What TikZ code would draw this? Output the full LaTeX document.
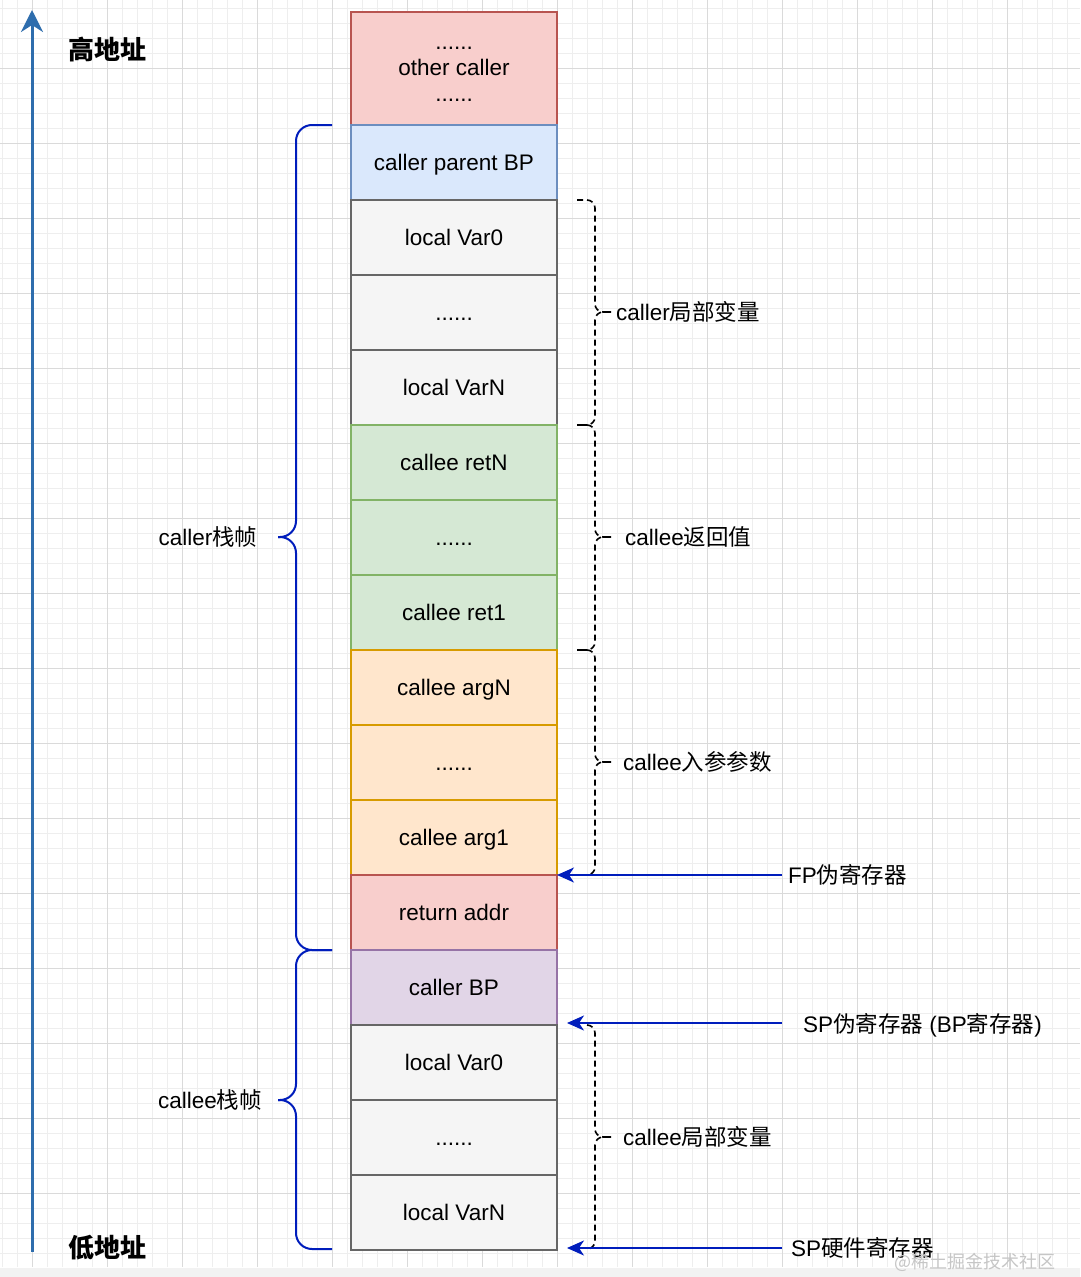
\documentclass[tikz,border=0pt]{standalone}
\usepackage{fontspec}
\setmainfont{Liberation Sans}
\newfontfamily\cjk{Noto Sans CJK SC}
\usetikzlibrary{arrows.meta}
\definecolor{gMinor}{HTML}{EEEEEE}
\definecolor{gMajor}{HTML}{DADADA}
\definecolor{redF}{HTML}{F8CECC}\definecolor{redD}{HTML}{B85450}
\definecolor{blueF}{HTML}{DAE8FC}\definecolor{blueD}{HTML}{6C8EBF}
\definecolor{grayF}{HTML}{F5F5F5}\definecolor{grayD}{HTML}{666666}
\definecolor{greenF}{HTML}{D5E8D4}\definecolor{greenD}{HTML}{82B366}
\definecolor{orangeF}{HTML}{FFE6CC}\definecolor{orangeD}{HTML}{D79B00}
\definecolor{purpleF}{HTML}{E1D5E7}\definecolor{purpleD}{HTML}{9673A6}
\definecolor{ptr}{HTML}{001DBC}
\definecolor{axisc}{HTML}{2E6DAD}
\newcommand\dfs{\fontsize{22.5pt}{27pt}\selectfont}
\newcommand\bigfs{\fontsize{26pt}{30pt}\selectfont}
\begin{document}
\begin{tikzpicture}[x=1pt,y=-1pt,font=\dfs,
  cell/.style={draw, minimum width=206pt, minimum height=75pt, inner sep=0pt, outer sep=0pt, line width=1.3pt, anchor=north west, align=center, text height=18pt, text depth=3pt},
  cred/.style={cell, fill=redF, draw=redD},
  cblue/.style={cell, fill=blueF, draw=blueD},
  cgray/.style={cell, fill=grayF, draw=grayD},
  cgreen/.style={cell, fill=greenF, draw=greenD},
  corange/.style={cell, fill=orangeF, draw=orangeD},
  cpurple/.style={cell, fill=purpleF, draw=purpleD},
  lbrace/.style={draw=ptr, line width=2pt, rounded corners=16pt},
  rbrace/.style={draw=black, line width=1.6pt, dash pattern=on 6pt off 4pt, rounded corners=8pt},
  ptrarrow/.style={draw=ptr, line width=2pt, -{Stealth[length=17pt,width=15pt,inset=5pt]}},
  lbl/.style={anchor=west, inner sep=0pt},
]
\useasboundingbox (0,0) rectangle (1080,1277);
\fill[white] (0,0) rectangle (1080,1277);
% grid
\foreach \x in {2,17,...,1080} \draw[gMinor, line width=1pt] (\x,0) -- (\x,1267);
\foreach \y in {8,23,...,1267} \draw[gMinor, line width=1pt] (0,\y) -- (1080,\y);
\foreach \x in {32,107,...,1080} \draw[gMajor, line width=1pt] (\x,0) -- (\x,1267);
\foreach \y in {68,143,...,1267} \draw[gMajor, line width=1pt] (0,\y) -- (1080,\y);
\fill[gray!10] (0,1268) rectangle (1080,1277);

% address axis
\coordinate (axlo) at (32,1252);
\coordinate (axhi) at (32,10);
\draw[axisc, line width=3pt, -{Stealth[length=22pt,width=22pt,inset=7pt]}] (axlo) -- (axhi);
\node[font=\bigfs\cjk\bfseries] (hi) at (107,50) {高地址};
\node[font=\bigfs\cjk\bfseries] (lo) at (107,1248) {低地址};

% stack cells
\node[cred, minimum height=113pt] (oc) at (351,12) {};
\node[align=center, inner sep=0pt, font=\fontsize{22.5pt}{26pt}\selectfont] (octxt) at (454,74) {......\\other caller\\......};
\node[cblue] (pbp) at (351,125) {caller parent BP};
\node[cgray] (lv0) at (351,200) {local Var0};
\node[cgray] (lvd) at (351,275) {......};
\node[cgray] (lvn) at (351,350) {local VarN};
\node[cgreen] (rtn) at (351,425) {callee retN};
\node[cgreen] (rtd) at (351,500) {......};
\node[cgreen] (rt1) at (351,575) {callee ret1};
\node[corange] (agn) at (351,650) {callee argN};
\node[corange] (agd) at (351,725) {......};
\node[corange] (ag1) at (351,800) {callee arg1};
\node[cred] (ra) at (351,875) {return addr};
\node[cpurple] (cbp) at (351,950) {caller BP};
\node[cgray] (cv0) at (351,1025) {local Var0};
\node[cgray] (cvd) at (351,1100) {......};
\node[cgray] (cvn) at (351,1175) {local VarN};

% left braces
\draw[lbrace] (332,125) -- (296,125) -- (296,537) -- (278,537);
\draw[lbrace] (278,537) -- (296,537) -- (296,950) -- (332,950);
\draw[lbrace] (332,950) -- (296,950) -- (296,1100) -- (278,1100);
\draw[lbrace] (278,1100) -- (296,1100) -- (296,1249) -- (332,1249);
\node (callerf) at (208,537) {caller{\cjk 栈帧}};
\node (calleef) at (210,1100) {callee{\cjk 栈帧}};

% right dashed braces
\draw[rbrace] (577,200) -- (595,200) -- (595,312) -- (611,312);
\draw[rbrace] (611,312) -- (595,312) -- (595,425) -- (577,425);
\draw[rbrace] (577,425) -- (595,425) -- (595,537) -- (611,537);
\draw[rbrace] (611,537) -- (595,537) -- (595,650) -- (577,650);
\draw[rbrace] (577,650) -- (595,650) -- (595,762) -- (611,762);
\draw[rbrace] (611,762) -- (595,762) -- (595,875) -- (585,875);
\draw[rbrace] (587,1025) -- (595,1025) -- (595,1137) -- (611,1137);
\draw[rbrace] (611,1137) -- (595,1137) -- (595,1249) -- (587,1249);
\node[lbl] (clv) at (616,312) {caller{\cjk 局部变量}};
\node[lbl] (crv) at (625,537) {callee{\cjk 返回值}};
\node[lbl] (cav) at (623,762) {callee{\cjk 入参参数}};
\node[lbl] (clv2) at (623,1137) {callee{\cjk 局部变量}};

% register pointers
\node[anchor=west, inner xsep=6pt, inner ysep=0pt] (fp) at (782,875) {FP{\cjk 伪寄存器}};
\node[anchor=west, inner xsep=21pt, inner ysep=0pt] (spp) at (782,1025) {SP{\cjk 伪寄存器} (BP{\cjk 寄存器})};
\node[anchor=west, inner xsep=9pt, inner ysep=0pt] (sph) at (782,1248) {SP{\cjk 硬件寄存器}};
\coordinate (fpT) at (557,875);
\coordinate (sppT) at (567,1023);
\coordinate (sphT) at (567,1248);
\draw[ptrarrow] (fp.west) -- (fpT);
\draw[ptrarrow] (782,1023) -- (sppT);
\draw[ptrarrow] (sph.west) -- (sphT);

% watermark
\node[anchor=east, text=gray!45, font=\fontsize{18pt}{20pt}\selectfont\cjk, inner sep=0pt] (wm) at (1056,1262) {@稀土掘金技术社区};
\end{tikzpicture}
\end{document}
